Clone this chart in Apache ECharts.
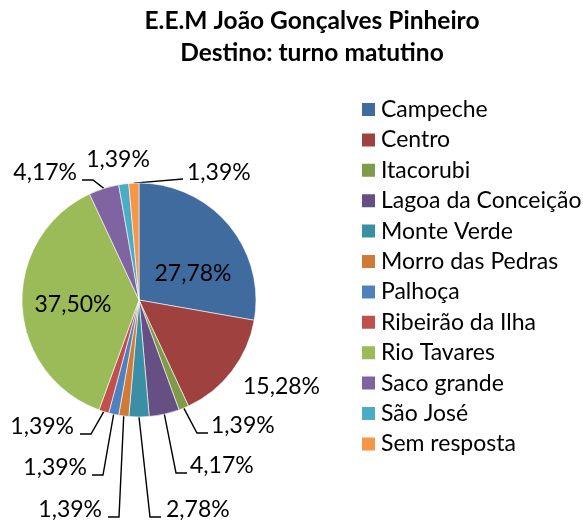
<!DOCTYPE html>
<html>
<head>
<meta charset="utf-8">
<style>
  html, body { margin: 0; padding: 0; background: #fff; }
  #main { width: 583px; height: 520px; }
</style>
</head>
<body>
<div id="main"></div>
<script src="https://cdn.jsdelivr.net/npm/echarts@6/dist/echarts.min.js"></script>
<script>
  var chartDom = document.getElementById('main');
  var myChart = echarts.init(chartDom);
  var option;

  // destinos (% dos alunos)
  const categories = [
    'Campeche', 'Centro', 'Itacorubi', 'Lagoa da Conceição', 'Monte Verde',
    'Morro das Pedras', 'Palhoça', 'Ribeirão da Ilha', 'Rio Tavares',
    'Saco grande', 'São José', 'Sem resposta'
  ];
  const percents = [27.78, 15.28, 1.39, 4.17, 2.78, 1.39, 1.39, 1.39, 37.5, 4.17, 1.39, 1.39];
  const colors = [
    '#3F6B9E', '#9E413F', '#7F9A48', '#664F83', '#3A8FA4', '#D07A37',
    '#4F81BD', '#C0504D', '#9BBB59', '#8064A2', '#4BACC6', '#F79646'
  ];

  // where Excel put the labels: [x, y, align, elbow points of the leader line]
  const labelSpots = [
    [193, 274, 'center', null],
    [243, 387, 'left', null],
    [211, 426, 'left', [[197, 433], [208, 433]]],
    [190, 466, 'left', [[176, 473], [187, 473]]],
    [166, 510, 'left', [[150, 517], [161, 517]]],
    [102, 510, 'right', [[119, 517], [108, 517]]],
    [87, 468, 'right', [[103, 475], [92, 475]]],
    [74, 427, 'right', [[91, 434], [80, 434]]],
    [73, 305, 'center', null],
    [77, 173, 'right', [[93, 180], [82, 180]]],
    [118, 160, 'center', null],
    [187, 173, 'left', [[183, 179]]],
  ];

  const font = 'Lato, Carlito, Calibri, sans-serif';

  const data = categories.map((name, i) => {
    const item = { name: name, value: percents[i] };
    if (percents[i] > 20) {
      item.label = { position: 'inside' };
    } else if (!labelSpots[i][3]) {
      item.labelLine = { show: false };
    }
    return item;
  });

  option = {
    color: colors,
    title: {
      text: 'E.E.M João Gonçalves Pinheiro\nDestino: turno matutino',
      left: 307,
      top: 0,
      textAlign: 'center',
      textStyle: {
        fontFamily: font,
        fontSize: 24.5,
        fontWeight: 'bold',
        color: '#000',
        lineHeight: 32,
      },
    },
    legend: {
      orient: 'vertical',
      left: 355,
      top: 93,
      itemWidth: 15,
      itemHeight: 15,
      itemGap: 7.4,
      icon: 'rect',
      textStyle: { fontFamily: font, fontSize: 23, lineHeight: 22, color: '#000' },
    },
    series: [
      {
        type: 'pie',
        center: [139, 300],
        radius: 117,
        startAngle: 90,
        clockwise: true,
        data: data,
        itemStyle: { borderColor: '#fff', borderWidth: 0.6 },
        label: {
          show: true,
          position: 'outside',
          fontFamily: font,
          fontSize: 23,
          width: 90,
          overflow: 'none',
          color: '#000',
          formatter: (p) => p.value.toFixed(2).replace('.', ',') + '%',
        },
        labelLine: {
          show: true,
          length: 10,
          length2: 10,
          lineStyle: { color: '#000', width: 1.4 },
        },
        labelLayout: function (params) {
          const spot = labelSpots[params.dataIndex];
          const out = { x: spot[0], y: spot[1], align: spot[2], verticalAlign: 'middle' };
          if (spot[3] && params.labelLinePoints) {
            out.labelLinePoints = [params.labelLinePoints[0]].concat(spot[3]);
          }
          return out;
        },
        emphasis: { disabled: true },
      },
    ],
    animation: false,
  };

  option && myChart.setOption(option);

  window.onresize = function () {
    myChart.resize();
  };
</script>
</body>
</html>
